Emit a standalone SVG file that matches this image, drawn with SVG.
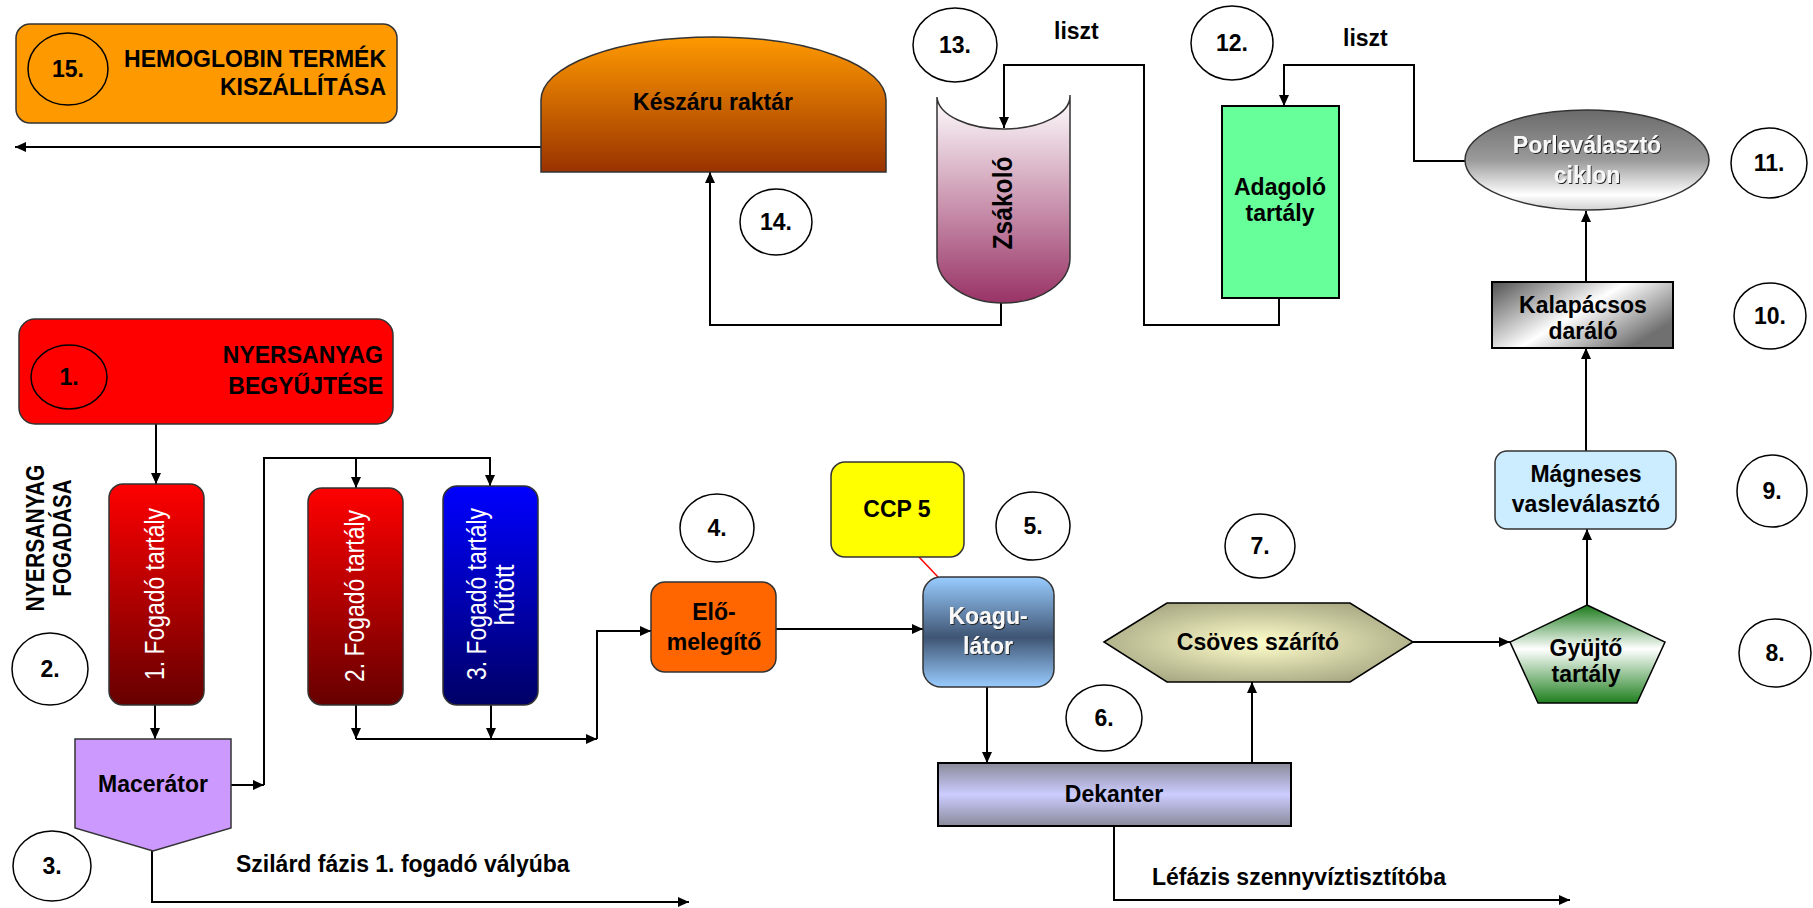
<svg xmlns="http://www.w3.org/2000/svg" width="1813" height="908" viewBox="0 0 1813 908">
<defs>
<style>
.t{font-family:"Liberation Sans",Arial,sans-serif;font-weight:bold;font-size:23px;fill:#000}
.m{text-anchor:middle}
.e{text-anchor:end}
.w{fill:#fff;font-weight:normal;font-size:27px}
.lw{fill:#f8f8f8}
.c{fill:#fff;stroke:#000;stroke-width:1.5}
.s{stroke:#000;stroke-width:2}
.ln{fill:none;stroke:#000;stroke-width:2}
</style>
<marker id="a" markerUnits="userSpaceOnUse" markerWidth="12" markerHeight="10" refX="11" refY="5" orient="auto"><path d="M0,0 L11,5 L0,10 z" fill="#000"/></marker>
<linearGradient id="gK" x1="0" y1="0" x2="0" y2="1"><stop offset="0" stop-color="#ff9900"/><stop offset="1" stop-color="#993300"/></linearGradient>
<linearGradient id="gZ" x1="0" y1="0" x2="0" y2="1"><stop offset="0" stop-color="#ffffff"/><stop offset="1" stop-color="#993366"/></linearGradient>
<linearGradient id="gR" x1="0" y1="0" x2="0" y2="1"><stop offset="0" stop-color="#ff0000"/><stop offset="1" stop-color="#660000"/></linearGradient>
<linearGradient id="gB" x1="0" y1="0" x2="0" y2="1"><stop offset="0" stop-color="#0000ff"/><stop offset="1" stop-color="#000066"/></linearGradient>
<linearGradient id="gP" x1="0" y1="0" x2="0" y2="1"><stop offset="0" stop-color="#6a6a6a"/><stop offset="0.5" stop-color="#9a9a9a"/><stop offset="0.85" stop-color="#ffffff"/><stop offset="1" stop-color="#d0d0d0"/></linearGradient>
<linearGradient id="gH" x1="0" y1="0" x2="1" y2="0.6"><stop offset="0" stop-color="#505050"/><stop offset="0.55" stop-color="#ffffff"/><stop offset="1" stop-color="#707070"/></linearGradient>
<linearGradient id="gG" x1="0" y1="0" x2="0" y2="1"><stop offset="0" stop-color="#1a7a1a"/><stop offset="0.45" stop-color="#ffffff"/><stop offset="1" stop-color="#1f7f1f"/></linearGradient>
<radialGradient id="gC" cx="0.5" cy="0.5" r="0.6"><stop offset="0" stop-color="#ffffcc"/><stop offset="1" stop-color="#a3a37f"/></radialGradient>
<linearGradient id="gD" x1="0" y1="0" x2="0" y2="1"><stop offset="0" stop-color="#8a8a9a"/><stop offset="0.5" stop-color="#ccccff"/><stop offset="1" stop-color="#8a8a9a"/></linearGradient>
<linearGradient id="gO" x1="0" y1="0" x2="0" y2="1"><stop offset="0" stop-color="#99ccff"/><stop offset="0.55" stop-color="#3f5573"/><stop offset="1" stop-color="#99ccff"/></linearGradient>
<filter id="sh" x="-10%" y="-10%" width="120%" height="130%"><feDropShadow dx="1" dy="1" stdDeviation="0.6" flood-color="#222"/></filter>
</defs>

<g id="connectors">
<path class="ln" d="M542,147 H15" marker-end="url(#a)"/>
<path class="ln" d="M1001,303 V325 H710 V172" marker-end="url(#a)"/>
<path class="ln" d="M1279,298 V325 H1144 V65 H1004 V128" marker-end="url(#a)"/>
<path class="ln" d="M1465,161 H1414 V65 H1284 V106" marker-end="url(#a)"/>
<path class="ln" d="M1586,282 V211" marker-end="url(#a)"/>
<path class="ln" d="M1586,451 V348" marker-end="url(#a)"/>
<path class="ln" d="M1587,605 V529" marker-end="url(#a)"/>
<path class="ln" d="M1413,642 H1510" marker-end="url(#a)"/>
<path class="ln" d="M1252,763 V682" marker-end="url(#a)"/>
<path class="ln" d="M987,687 V763" marker-end="url(#a)"/>
<path class="ln" d="M1114,826 V900 H1570" marker-end="url(#a)"/>
<path class="ln" d="M776,629 H923" marker-end="url(#a)"/>
<path class="ln" d="M597,739 V631 H651" marker-end="url(#a)"/>
<path class="ln" d="M356,739 H597" marker-end="url(#a)"/>
<path class="ln" d="M356,705 V739" marker-end="url(#a)"/>
<path class="ln" d="M491,705 V739" marker-end="url(#a)"/>
<path class="ln" d="M231,785 H264" marker-end="url(#a)"/>
<path class="ln" d="M264,785 V458 H490 V486" marker-end="url(#a)"/>
<path class="ln" d="M356,458 V488" marker-end="url(#a)"/>
<path class="ln" d="M156,424 V484" marker-end="url(#a)"/>
<path class="ln" d="M155,705 V739" marker-end="url(#a)"/>
<path class="ln" d="M152,851 V902 H689" marker-end="url(#a)"/>
<path d="M919,557 L938,577" stroke="#ff0000" stroke-width="1.5" fill="none"/>
<text class="t" x="1054" y="39">liszt</text>
<text class="t" x="1343" y="46">liszt</text>
<text class="t" x="236" y="872">Szilárd fázis 1. fogadó vályúba</text>
<text class="t" x="1152" y="885">Léfázis szennyvíztisztítóba</text>
</g>

<g id="n15">
<rect x="16" y="24" width="381" height="99" rx="14" fill="#ff9900" stroke="#333" stroke-width="1.5"/>
<ellipse cx="68" cy="69" rx="40" ry="36" fill="none" stroke="#000" stroke-width="1.5"/>
<text class="t m" x="68" y="77">15.</text>
<text class="t e" x="386" y="67">HEMOGLOBIN TERMÉK</text>
<text class="t e" x="386" y="95">KISZÁLLÍTÁSA</text>
</g>

<g id="keszaru">
<path d="M541,172 V100 A172.5,63 0 0 1 886,100 V172 Z" fill="url(#gK)" stroke="#333" stroke-width="1.5"/>
<text class="t m" x="713" y="110">Készáru raktár</text>
</g>
<g id="c14"><ellipse class="c" cx="776" cy="222" rx="36" ry="33"/><text class="t m" x="776" y="230">14.</text></g>

<g id="zsakolo">
<path d="M937,97 A66.5,33 0 0 0 1070,95 V258 A66.5,45 0 0 1 937,258 Z" fill="url(#gZ)" stroke="#333" stroke-width="1.5"/>
<text class="t m" style="font-size:27px" textLength="93" lengthAdjust="spacingAndGlyphs" transform="translate(1012,203) rotate(-90)">Zsákoló</text>
</g>
<g id="c13"><ellipse class="c" cx="955" cy="45" rx="42" ry="37"/><text class="t m" x="955" y="53">13.</text></g>

<g id="adagolo">
<rect x="1222" y="106" width="117" height="192" fill="#66ff99" class="s" stroke-width="2.5"/>
<text class="t m" x="1280" y="195">Adagoló</text>
<text class="t m" x="1280" y="221">tartály</text>
</g>
<g id="c12"><ellipse class="c" cx="1232" cy="43" rx="41" ry="37"/><text class="t m" x="1232" y="51">12.</text></g>

<g id="porlevalaszto">
<ellipse cx="1587" cy="160" rx="122" ry="50" fill="url(#gP)" stroke="#333" stroke-width="1.5"/>
<text class="t m lw" x="1587" y="153" filter="url(#sh)">Porleválasztó</text>
<text class="t m lw" x="1587" y="183" filter="url(#sh)">ciklon</text>
</g>
<g id="c11"><ellipse class="c" cx="1769" cy="163" rx="38" ry="35"/><text class="t m" x="1769" y="171">11.</text></g>

<g id="kalapacsos">
<rect x="1492" y="282" width="181" height="66" fill="url(#gH)" class="s" stroke-width="2.5"/>
<text class="t m" x="1583" y="313">Kalapácsos</text>
<text class="t m" x="1583" y="339">daráló</text>
</g>
<g id="c10"><ellipse class="c" cx="1770" cy="316" rx="36" ry="33"/><text class="t m" x="1770" y="324">10.</text></g>

<g id="magneses">
<rect x="1495" y="451" width="181" height="78" rx="12" fill="#ccecff" stroke="#333" stroke-width="1.5"/>
<text class="t m" x="1586" y="482">Mágneses</text>
<text class="t m" x="1586" y="512">vasleválasztó</text>
</g>
<g id="c9"><ellipse class="c" cx="1772" cy="491" rx="35" ry="36"/><text class="t m" x="1772" y="499">9.</text></g>

<g id="gyujto">
<polygon points="1587,605 1665,642 1637,703 1538,703 1510,642" fill="url(#gG)" stroke="#000" stroke-width="1.5"/>
<text class="t m" x="1586" y="656">Gyüjtő</text>
<text class="t m" x="1586" y="682">tartály</text>
</g>
<g id="c8"><ellipse class="c" cx="1775" cy="653" rx="36" ry="34"/><text class="t m" x="1775" y="661">8.</text></g>

<g id="csoves">
<polygon points="1104,642 1167,603 1350,603 1413,642 1350,682 1167,682" fill="url(#gC)" stroke="#000" stroke-width="1.5"/>
<text class="t m" x="1258" y="650">Csöves szárító</text>
</g>
<g id="c7"><ellipse class="c" cx="1260" cy="546" rx="35" ry="32"/><text class="t m" x="1260" y="554">7.</text></g>

<g id="dekanter">
<rect x="938" y="763" width="353" height="63" fill="url(#gD)" class="s" stroke-width="2.5"/>
<text class="t m" x="1114" y="802">Dekanter</text>
</g>
<g id="c6"><ellipse class="c" cx="1104" cy="718" rx="38" ry="33"/><text class="t m" x="1104" y="726">6.</text></g>

<g id="koagulator">
<rect x="923" y="577" width="131" height="110" rx="18" fill="url(#gO)" stroke="#333" stroke-width="1.5"/>
<text class="t m lw" x="988" y="624" filter="url(#sh)">Koagu-</text>
<text class="t m lw" x="988" y="654" filter="url(#sh)">látor</text>
</g>
<g id="c5"><ellipse class="c" cx="1033" cy="526" rx="37" ry="34"/><text class="t m" x="1033" y="534">5.</text></g>

<g id="ccp5">
<rect x="831" y="462" width="133" height="95" rx="14" fill="#ffff00" stroke="#333" stroke-width="1.5"/>
<text class="t m" x="897" y="517">CCP 5</text>
</g>

<g id="elomelegito">
<rect x="651" y="582" width="125" height="90" rx="14" fill="#ff6600" stroke="#333" stroke-width="1.5"/>
<text class="t m" x="714" y="620">Elő-</text>
<text class="t m" x="714" y="650">melegítő</text>
</g>
<g id="c4"><ellipse class="c" cx="717" cy="528" rx="37" ry="34"/><text class="t m" x="717" y="536">4.</text></g>

<g id="n1">
<rect x="19" y="319" width="374" height="105" rx="16" fill="#ff0000" stroke="#333" stroke-width="1.5"/>
<ellipse cx="69" cy="377" rx="38" ry="32" fill="none" stroke="#000" stroke-width="1.5"/>
<text class="t m" x="69" y="385">1.</text>
<text class="t e" x="383" y="363">NYERSANYAG</text>
<text class="t e" x="383" y="394">BEGYŰJTÉSE</text>
</g>

<g id="fogadasa">
<text class="t m" style="font-size:25px" textLength="147" lengthAdjust="spacingAndGlyphs" transform="translate(44,538) rotate(-90)">NYERSANYAG</text>
<text class="t m" style="font-size:25px" textLength="117" lengthAdjust="spacingAndGlyphs" transform="translate(71,538) rotate(-90)">FOGADÁSA</text>
</g>
<g id="c2"><ellipse class="c" cx="50" cy="669" rx="38" ry="36"/><text class="t m" x="50" y="677">2.</text></g>

<g id="fogado1">
<rect x="109" y="484" width="95" height="221" rx="14" fill="url(#gR)" stroke="#333" stroke-width="1.5"/>
<text class="t m w" textLength="172" lengthAdjust="spacingAndGlyphs" transform="translate(164,594) rotate(-90)">1. Fogadó tartály</text>
</g>
<g id="fogado2">
<rect x="308" y="488" width="95" height="217" rx="14" fill="url(#gR)" stroke="#333" stroke-width="1.5"/>
<text class="t m w" textLength="172" lengthAdjust="spacingAndGlyphs" transform="translate(364,596) rotate(-90)">2. Fogadó tartály</text>
</g>
<g id="fogado3">
<rect x="443" y="486" width="95" height="219" rx="14" fill="url(#gB)" stroke="#333" stroke-width="1.5"/>
<text class="t m w" textLength="172" lengthAdjust="spacingAndGlyphs" transform="translate(486,594) rotate(-90)">3. Fogadó tartály</text>
<text class="t m w" textLength="61" lengthAdjust="spacingAndGlyphs" transform="translate(514,595) rotate(-90)">hűtött</text>
</g>

<g id="macerator">
<polygon points="75,739 231,739 231,828 153,851 75,828" fill="#cc99ff" stroke="#333" stroke-width="1.5"/>
<text class="t m" x="153" y="792">Macerátor</text>
</g>
<g id="c3"><ellipse class="c" cx="52" cy="866" rx="39" ry="35"/><text class="t m" x="52" y="874">3.</text></g>
</svg>
